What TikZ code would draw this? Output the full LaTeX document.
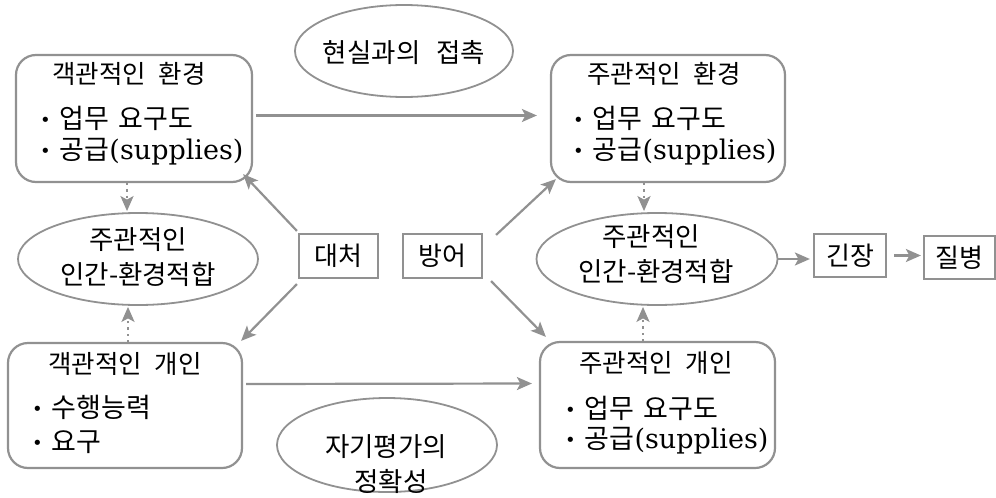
\documentclass[tikz,border=0pt]{standalone}
\usepackage{fontspec}
\setmainfont{DejaVu Serif}
\newfontfamily\kr{Noto Sans CJK KR}
\usetikzlibrary{arrows.meta,shapes.geometric,calc}
\definecolor{lg}{RGB}{145,145,145}
\newcommand\bdot{\raisebox{2pt}{\fontsize{18}{18}\selectfont •}}
\tikzset{
 rbox/.style={draw=lg,line width=2.2pt,rounded corners=20pt,inner sep=0pt},
 sbox/.style={draw=lg,line width=2.2pt,inner sep=0pt,font=\kr\fontsize{26}{30}\selectfont},
 ell/.style={draw=lg,line width=1.8pt,ellipse,inner sep=0pt},
 ttl/.style={font=\kr\fontsize{25.5}{28}\selectfont,inner sep=0pt},
 bul/.style={font=\fontsize{27}{30}\selectfont,anchor=west,inner sep=0pt},
 etxt/.style={font=\kr\fontsize{26.5}{30}\selectfont,inner sep=0pt},
 arr/.style={draw=lg,line width=2.2pt,-{Stealth[length=15pt,width=13pt,inset=3.5pt]}},
 dotarr/.style={arr,dash pattern=on 2.2pt off 4pt},
}
\begin{document}
\begin{tikzpicture}[x=1pt,y=-1pt]
\useasboundingbox (0,0) rectangle (996,498);
% boxes
\node[rbox,minimum width=236pt,minimum height=127pt] (tl) at (134,118.5) {};
\node[ttl] (tlt) at (129,74) {객관적인\hspace{0.5em}환경};
\node[bul] (tlb1) at (40,118) {\bdot\hspace{9pt}{\kr 업무\hspace{0.35em}요구도}};
\node[bul] (tlb2) at (40,152) {\bdot\hspace{9pt}{\kr 공급}(supplies)};

\node[rbox,minimum width=234pt,minimum height=127pt] (tr) at (668,118.5) {};
\node[ttl] (trt) at (664,74) {주관적인\hspace{0.5em}환경};
\node[bul] (trb1) at (573,118) {\bdot\hspace{9pt}{\kr 업무\hspace{0.35em}요구도}};
\node[bul] (trb2) at (573,152) {\bdot\hspace{9pt}{\kr 공급}(supplies)};

\node[rbox,minimum width=234pt,minimum height=125pt] (bl) at (125,405.5) {};
\node[ttl] (blt) at (125,364) {객관적인\hspace{0.5em}개인};
\node[bul] (blb1) at (32,407) {\bdot\hspace{9pt}{\kr 수행능력}};
\node[bul] (blb2) at (32,442) {\bdot\hspace{9pt}{\kr 요구}};

\node[rbox,minimum width=235pt,minimum height=126pt] (br) at (657.5,405) {};
\node[ttl] (brt) at (656,363) {주관적인\hspace{0.5em}개인};
\node[bul] (brb1) at (565,408) {\bdot\hspace{9pt}{\kr 업무\hspace{0.35em}요구도}};
\node[bul] (brb2) at (565,441) {\bdot\hspace{9pt}{\kr 공급}(supplies)};

% ellipses
\node[ell,minimum width=218pt,minimum height=92pt] (tell) at (404,51) {};
\node[etxt] (tellt) at (404,53) {현실과의\hspace{0.6em}접촉};
\node[ell,minimum width=240pt,minimum height=92pt] (lell) at (138,259) {};
\node[etxt] (lellt1) at (138,240) {주관적인};
\node[etxt] (lellt2) at (138,274) {인간-환경적합};
\node[ell,minimum width=241pt,minimum height=92pt] (rell) at (657,259) {};
\node[etxt] (rellt1) at (651,237) {주관적인};
\node[etxt] (rellt2) at (656,271) {인간-환경적합};
\node[ell,minimum width=220pt,minimum height=94pt] (bell) at (387,445) {};
\node[etxt] (bellt1) at (386,447) {자기평가의};
\node[etxt] (bellt2) at (391,481) {정확성};

% small boxes
\node[sbox,minimum width=79pt,minimum height=44pt] (dc) at (338.5,256) {대처};
\node[sbox,minimum width=79pt,minimum height=44pt] (by) at (442.5,256) {방어};
\node[sbox,minimum width=72pt,minimum height=43pt] (gj) at (850,255.5) {긴장};
\node[sbox,minimum width=71pt,minimum height=43pt] (jb) at (959.5,257.5) {질병};

% arrows
\draw[arr,shorten <=3pt,shorten >=13pt] ([yshift=3pt]tl.east) -- ([yshift=3pt]tr.west);
\draw[arr,shorten <=3pt,shorten >=7pt] ([yshift=21.5pt]bl.east) -- ([yshift=21.5pt]br.west);
\draw[arr] ([xshift=-1pt,yshift=2pt]dc.north west) -- ([xshift=-10pt,yshift=9pt]tl.south east);
\draw[arr] ([xshift=-1pt,yshift=-5pt]dc.south west) -- ([xshift=-2pt,yshift=1pt]bl.north east);
\draw[arr] ([xshift=13pt,yshift=-2pt]by.north east) -- ([xshift=6pt,yshift=4pt]tr.south west);
\draw[arr] ([xshift=8pt,yshift=-2pt]by.south east) -- ([xshift=7pt,yshift=4pt]br.north west);
\draw[arr,shorten >=3pt] (rell.east) -- (rell.east -| gj.west);
\draw[arr,shorten <=7pt,shorten >=2pt] (gj.east) -- (gj.east -| jb.west);
% dotted
\draw[dotarr,shorten >=1pt] ($(tl.south)+(-7,0)$) -- ($(lell.north -| tl.south)+(-7,0)$);
\draw[dotarr,shorten >=1pt] ($(bl.north)+(3,0)$) -- ($(lell.south -| bl.north)+(3,0)$);
\draw[dotarr,shorten >=1pt] ($(tr.south)+(-24,0)$) -- ($(rell.north -| tr.south)+(-24,0)$);
\draw[dotarr,shorten >=1pt] ($(br.north)+(-14.5,0)$) -- ($(rell.south -| br.north)+(-14.5,0)$);
\end{tikzpicture}
\end{document}
